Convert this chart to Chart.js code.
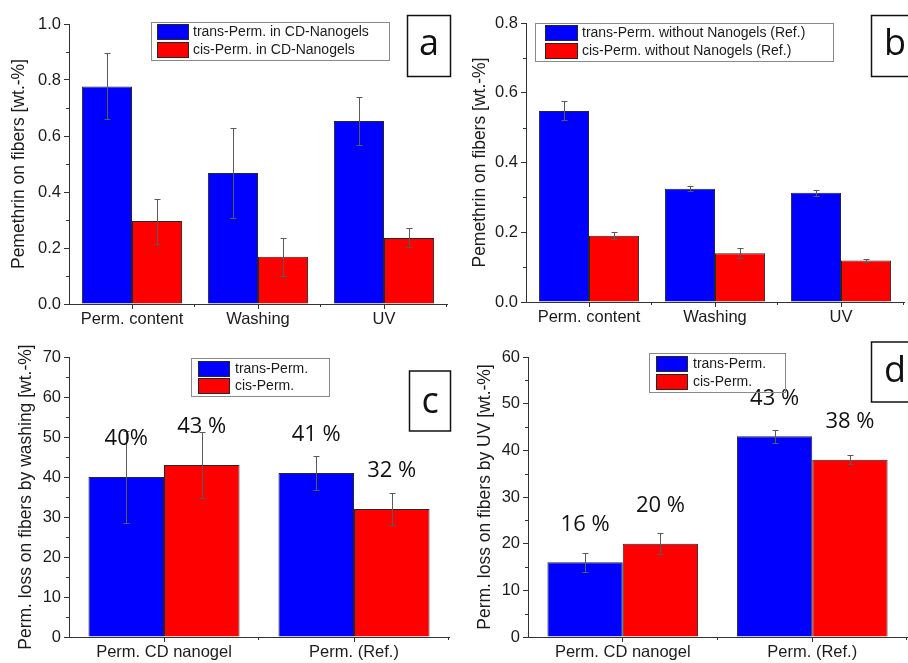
<!DOCTYPE html>
<html>
<head>
<meta charset="utf-8">
<title>Permethrin on fibers</title>
<script src="https://cdn.jsdelivr.net/npm/chart.js@4.4.1/dist/chart.umd.min.js"></script>
<style>
  html, body { margin: 0; padding: 0; background: #fff; }
  #fig { position: relative; width: 908px; height: 663px; overflow: hidden; background: #fff; }
  #fig canvas { position: absolute; }
</style>
</head>
<body>
<div id="fig">
  <canvas id="panelA" width="454" height="330" style="left:0;top:0"></canvas>
  <canvas id="panelB" width="454" height="330" style="left:454px;top:0"></canvas>
  <canvas id="panelC" width="454" height="333" style="left:0;top:330px"></canvas>
  <canvas id="panelD" width="454" height="333" style="left:454px;top:330px"></canvas>
</div>
<script>
// ---- data ----------------------------------------------------------
const stageCategories = ['Perm. content', 'Washing', 'UV'];
const lossCategories = ['Perm. CD nanogel', 'Perm. (Ref.)'];

// (a) permethrin with CD nanogels [wt.-%]
const transNanogel    = [0.777, 0.468, 0.654];
const transNanogelErr = [0.118, 0.160, 0.085];
const cisNanogel      = [0.296, 0.169, 0.236];
const cisNanogelErr   = [0.080, 0.068, 0.034];

// (b) permethrin without nanogels (reference) [wt.-%]
const transRef    = [0.548, 0.325, 0.313];
const transRefErr = [0.027, 0.007, 0.008];
const cisRef      = [0.190, 0.140, 0.119];
const cisRefErr   = [0.010, 0.015, 0.004];

// (c) loss by washing [%]
const transWashLoss    = [40, 41];
const transWashLossErr = [11.5, 4.3];
const cisWashLoss      = [43, 32];
const cisWashLossErr   = [8.2, 3.9];
const transWashText    = ['40%', '41 %'];
const cisWashText      = ['43 %', '32 %'];

// (d) loss by UV [%]
const transUvLoss    = [16, 43];
const transUvLossErr = [2.0, 1.35];
const cisUvLoss      = [20, 38];
const cisUvLossErr   = [2.2, 1.0];
const transUvText    = ['16 %', '43 %'];
const cisUvText      = ['20 %', '38 %'];

// ---- styling -------------------------------------------------------
const BLUE = '#0000ff';
const RED = '#ff0000';
const EDGE = '#262626';
const AXIS = '#333333';
const INK = '#1c1c1c';
const SANS = '"Liberation Sans", Arial, sans-serif';
const ROUND = '"Open Sans", "DejaVu Sans", sans-serif';

// vertical error bars with small caps
const errorBars = {
  id: 'errorBars',
  afterDatasetsDraw(chart, args, opts) {
    const { ctx } = chart;
    const ys = chart.scales.y;
    chart.data.datasets.forEach((ds, i) => {
      if (!ds.errors) return;
      chart.getDatasetMeta(i).data.forEach((bar, j) => {
        const v = ds.data[j], e = ds.errors[j];
        const yt = Math.round(ys.getPixelForValue(v + e)) + 0.5;
        const yb = Math.round(ys.getPixelForValue(v - e)) + 0.5;
        const x = Math.round(bar.x) + 0.5;
        const c = opts.cap;
        ctx.save();
        ctx.strokeStyle = opts.color;
        ctx.lineWidth = 1;
        ctx.beginPath();
        ctx.moveTo(x, yt); ctx.lineTo(x, yb);
        ctx.moveTo(x - c, yt); ctx.lineTo(x + c, yt);
        ctx.moveTo(x - c, yb); ctx.lineTo(x + c, yb);
        ctx.stroke();
        ctx.restore();
      });
    });
  }
};

// short minor ticks: halfway between y ticks, and on category borders
const minorTicks = {
  id: 'minorTicks',
  afterDraw(chart, args, opts) {
    const { ctx, chartArea } = chart;
    const xs = chart.scales.x, ys = chart.scales.y;
    ctx.save();
    ctx.strokeStyle = AXIS;
    ctx.lineWidth = 1;
    ctx.beginPath();
    const n = Math.round((ys.max - ys.min) / opts.yStep);
    for (let k = 1; k < n; k += 2) {
      const y = Math.round(ys.getPixelForValue(ys.min + k * opts.yStep)) + 0.5;
      ctx.moveTo(chartArea.left - opts.len, y);
      ctx.lineTo(chartArea.left, y);
    }
    const cats = chart.data.labels.length;
    for (let i = 0; i < cats; i++) {
      const a = xs.getPixelForValue(i);
      const b = i + 1 < cats ? xs.getPixelForValue(i + 1) : chartArea.right + (chartArea.right - a);
      const x = Math.round(i + 1 < cats ? (a + b) / 2 : chartArea.right) - 0.5;
      ctx.moveTo(x, chartArea.bottom);
      ctx.lineTo(x, chartArea.bottom + opts.len);
    }
    ctx.stroke();
    ctx.restore();
  }
};

// boxed legend with wide colour swatches
const boxLegend = {
  id: 'boxLegend',
  afterDraw(chart, args, opts) {
    const { ctx } = chart;
    const [bx, by, bw, bh] = opts.box;
    ctx.save();
    ctx.strokeStyle = '#8a8a8a';
    ctx.lineWidth = 1;
    ctx.strokeRect(Math.round(bx) + 0.5, Math.round(by) + 0.5, Math.round(bw), Math.round(bh));
    ctx.font = '14px ' + SANS;
    ctx.textBaseline = 'middle';
    ctx.textAlign = 'left';
    chart.data.datasets.forEach((ds, i) => {
      const sy = opts.rows[i];
      ctx.fillStyle = ds.backgroundColor;
      ctx.fillRect(opts.swatchX, sy, opts.swatchW, opts.swatchH);
      ctx.strokeStyle = EDGE;
      ctx.strokeRect(opts.swatchX + 0.5, sy + 0.5, opts.swatchW - 1, opts.swatchH - 1);
      ctx.fillStyle = INK;
      ctx.fillText(ds.label, opts.textX, sy + opts.swatchH / 2 + 0.5);
    });
    ctx.restore();
  }
};

// framed panel letter
const panelTag = {
  id: 'panelTag',
  afterDraw(chart, args, opts) {
    const { ctx } = chart;
    const [x, y, w, h] = opts.box;
    ctx.save();
    ctx.strokeStyle = '#111';
    ctx.lineWidth = 1.5;
    ctx.strokeRect(x, y, w, h);
    ctx.fillStyle = '#111';
    ctx.font = opts.size + 'px ' + ROUND;
    ctx.textAlign = 'center';
    ctx.textBaseline = 'middle';
    ctx.fillText(opts.text, opts.tx, opts.ty);
    ctx.restore();
  }
};

// percentage text above each bar
const valueLabels = {
  id: 'valueLabels',
  afterDatasetsDraw(chart, args, opts) {
    const { ctx } = chart;
    ctx.save();
    ctx.fillStyle = '#111';
    ctx.font = opts.size + 'px ' + ROUND;
    ctx.textAlign = 'center';
    ctx.textBaseline = 'middle';
    chart.data.datasets.forEach((ds, i) => {
      if (!ds.valueText) return;
      chart.getDatasetMeta(i).data.forEach((bar, j) => {
        ctx.fillText(ds.valueText[j], bar.x, bar.y - opts.offset);
      });
    });
    ctx.restore();
  }
};

function buildPanel(id, p) {
  const canvas = document.getElementById(id);
  const W = canvas.width, H = canvas.height;
  const barStyle = { borderColor: EDGE, borderWidth: 1, categoryPercentage: 0.795, barPercentage: 1 };
  return new Chart(canvas, {
    type: 'bar',
    data: {
      labels: p.labels,
      datasets: [
        Object.assign({ label: p.names[0], data: p.trans, errors: p.transErr, valueText: p.transText, backgroundColor: BLUE }, barStyle),
        Object.assign({ label: p.names[1], data: p.cis, errors: p.cisErr, valueText: p.cisText, backgroundColor: RED }, barStyle)
      ]
    },
    options: {
      responsive: false,
      animation: false,
      events: [],
      layout: { padding: { left: 0, top: p.area.top, right: W - p.area.right, bottom: 0 } },
      scales: {
        x: {
          offset: true,
          grid: { offset: false, drawOnChartArea: false, drawTicks: true, tickLength: 5, color: AXIS },
          border: { display: true, color: AXIS, width: 1 },
          ticks: { color: INK, font: { family: SANS, size: 16.5 }, padding: 1, maxRotation: 0, autoSkip: false },
          afterFit: s => { s.height = H - p.area.bottom; }
        },
        y: {
          min: 0, max: p.max,
          grid: { drawOnChartArea: false, drawTicks: true, tickLength: 5, color: AXIS },
          border: { display: true, color: AXIS, width: 1 },
          ticks: {
            stepSize: p.step, color: INK, padding: 3,
            font: { family: SANS, size: 16.5 },
            callback: v => Number(v).toFixed(p.decimals)
          },
          title: {
            display: true, text: p.yTitle, color: INK,
            font: { family: SANS, size: 17.5 },
            padding: { top: p.titlePad, bottom: 0 }
          },
          afterFit: s => { s.width = p.area.left; }
        }
      },
      plugins: {
        legend: { display: false },
        tooltip: { enabled: false },
        errorBars: { color: '#5a5a5a', cap: 3 },
        minorTicks: { yStep: p.step / 2, len: 3 },
        boxLegend: p.legend,
        panelTag: p.tag,
        valueLabels: { size: 22, offset: 38 }
      }
    },
    plugins: [errorBars, valueLabels, minorTicks, boxLegend, panelTag]
  });
}

buildPanel('panelA', {
  labels: stageCategories,
  names: ['trans-Perm. in CD-Nanogels', 'cis-Perm. in CD-Nanogels'],
  trans: transNanogel, transErr: transNanogelErr,
  cis: cisNanogel, cisErr: cisNanogelErr,
  max: 1.0, step: 0.2, decimals: 1,
  yTitle: 'Pemethrin on fibers [wt.-%]', titlePad: 9,
  area: { left: 69, right: 447, top: 24, bottom: 304 },
  legend: { box: [151, 22, 238, 38], swatchX: 157, swatchW: 32, swatchH: 16, rows: [24, 42], textX: 193 },
  tag: { text: 'a', box: [407.5, 15.5, 43, 61], tx: 429, ty: 45, size: 36 }
});

buildPanel('panelB', {
  labels: stageCategories,
  names: ['trans-Perm. without Nanogels (Ref.)', 'cis-Perm. without Nanogels (Ref.)'],
  trans: transRef, transErr: transRefErr,
  cis: cisRef, cisErr: cisRefErr,
  max: 0.8, step: 0.2, decimals: 1,
  yTitle: 'Pemethrin on fibers [wt.-%]', titlePad: 16,
  area: { left: 72, right: 450, top: 23, bottom: 302 },
  legend: { box: [81, 23, 298, 38], swatchX: 91, swatchW: 33, swatchH: 16, rows: [25, 43], textX: 128 },
  tag: { text: 'b', box: [417.5, 15.5, 60, 61], tx: 441, ty: 45, size: 36 }
});

buildPanel('panelC', {
  labels: lossCategories,
  names: ['trans-Perm.', 'cis-Perm.'],
  trans: transWashLoss, transErr: transWashLossErr, transText: transWashText,
  cis: cisWashLoss, cisErr: cisWashLossErr, cisText: cisWashText,
  max: 70, step: 10, decimals: 0,
  yTitle: 'Perm. loss on fibers by washing [wt.-%]', titlePad: 16,
  area: { left: 69, right: 449, top: 27, bottom: 307 },
  legend: { box: [191, 28, 138, 38], swatchX: 198, swatchW: 32, swatchH: 16, rows: [31, 48], textX: 235 },
  tag: { text: 'c', box: [409.5, 41, 41, 60], tx: 430, ty: 73, size: 36 }
});

buildPanel('panelD', {
  labels: lossCategories,
  names: ['trans-Perm.', 'cis-Perm.'],
  trans: transUvLoss, transErr: transUvLossErr, transText: transUvText,
  cis: cisUvLoss, cisErr: cisUvLossErr, cisText: cisUvText,
  max: 60, step: 10, decimals: 0,
  yTitle: 'Perm. loss on fibers by UV [wt.-%]', titlePad: 21,
  area: { left: 74, right: 453, top: 27, bottom: 307 },
  legend: { box: [195, 23, 136, 39], swatchX: 202, swatchW: 32, swatchH: 16, rows: [26, 44], textX: 239 },
  tag: { text: 'd', box: [417.5, 12, 60, 60], tx: 441, ty: 42, size: 36 }
});
</script>
</body>
</html>
